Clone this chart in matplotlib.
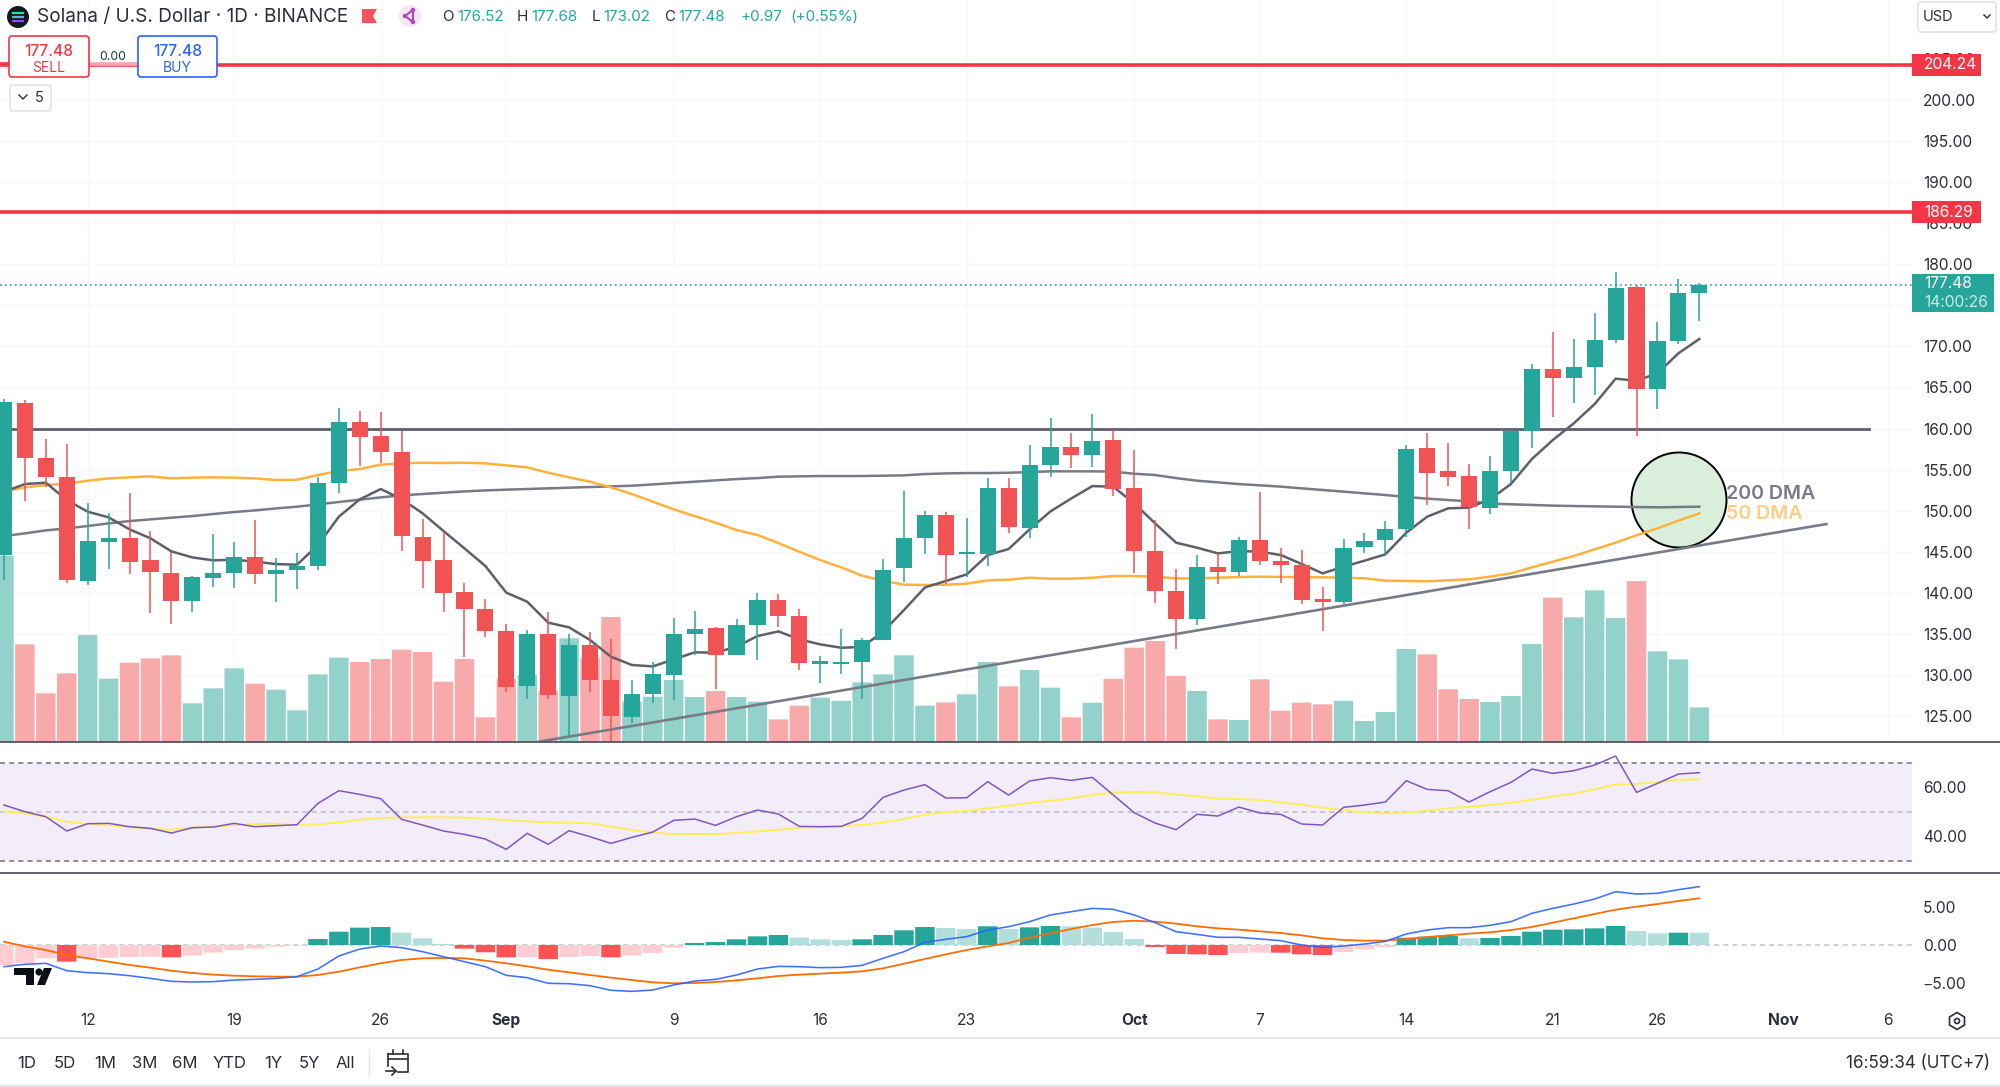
import matplotlib
matplotlib.use("Agg")
import matplotlib.pyplot as plt
from matplotlib.patches import Rectangle, FancyBboxPatch, Circle, Polygon
from matplotlib.transforms import blended_transform_factory

plt.rcParams['font.family'] = ['Inter', 'DejaVu Sans']

# ---------------- data ----------------
highs = [163.54,163.46,158.76,158.11,150.89,149.76,152.11,147.53,144.93,142.05,147.16,146.15,148.87,144.28,144.89,154.06,162.45,162.13,162.04,159.73,
         148.99,147.45,141.16,139.21,136.21,135.48,137.71,134.96,135.28,134.39,129.40,131.63,136.90,137.80,135.89,136.78,140.03,139.86,138.00,132.36,
         135.65,134.47,144.08,152.39,150.00,149.88,149.07,154.02,154.02,157.99,161.31,159.41,161.76,159.81,157.38,148.87,142.90,144.61,144.89,146.76,
         152.32,145.51,145.22,140.68,146.60,147.25,148.79,158.00,159.41,158.28,155.64,156.66,159.80,167.85,171.74,170.89,174.09,179.08,177.46,173.00,178.15,177.68]
lows = [141.57,151.22,152.84,141.24,140.96,142.90,142.30,137.59,136.21,137.71,140.76,140.63,141.08,138.93,140.47,142.78,152.11,155.43,155.76,145.13,
        140.63,137.71,132.24,134.59,127.98,127.05,127.13,122.51,127.94,121.90,124.21,126.64,126.97,132.44,128.31,132.44,131.83,135.81,130.62,129.00,
        130.13,127.05,134.27,141.28,144.69,141.08,141.97,143.27,147.24,146.72,154.14,155.19,155.27,151.79,142.38,138.73,133.13,136.09,141.08,142.05,
        143.40,141.25,138.61,135.41,138.61,144.82,144.61,146.84,150.70,153.01,147.74,149.60,153.33,157.59,161.36,163.14,164.08,170.44,159.13,162.33,170.24,173.02]
opens = [144.61,163.14,156.37,154.06,141.45,146.23,146.64,143.96,142.46,139.05,141.85,142.38,144.32,142.34,142.78,143.27,153.37,160.75,159.12,157.18,
         146.76,143.96,140.07,138.04,135.40,128.63,134.96,127.50,133.66,129.40,124.94,127.74,130.05,135.00,135.69,132.44,136.05,139.17,137.19,131.39,
         131.35,131.55,134.27,142.99,146.64,149.51,144.73,144.73,152.80,147.93,155.60,157.75,156.77,158.60,152.72,145.13,140.19,136.82,143.19,142.58,
         146.44,143.92,143.44,139.26,138.90,145.55,146.44,147.82,157.59,154.83,154.22,150.37,154.83,159.74,167.28,166.10,167.52,170.73,177.17,164.85,170.69,176.52]
closes = [163.26,156.41,154.06,141.57,146.35,146.64,143.72,142.50,139.05,141.93,142.46,144.40,142.30,142.74,143.27,153.37,160.79,159.00,157.14,146.88,
          143.92,140.03,138.04,135.40,128.59,134.96,127.58,133.62,129.40,125.02,127.74,130.09,135.00,135.61,132.40,136.05,139.13,137.19,131.43,131.55,
          131.55,134.27,142.82,146.64,149.43,144.65,144.89,152.72,148.01,155.56,157.75,156.77,158.52,152.60,145.13,140.19,136.82,143.11,142.58,146.39,
          143.88,143.44,139.14,138.94,145.46,146.36,147.74,157.55,154.55,154.14,150.41,154.83,159.70,167.28,166.19,167.44,170.77,177.13,164.77,170.69,176.53,177.48]
volumes = [558,292,145,205,320,189,237,250,259,115,160,220,174,156,94,202,252,239,248,276,
           269,180,248,73,188,200,152,310,250,374,120,135,185,134,152,134,120,67,108,132,
           123,178,202,259,108,118,142,239,166,215,162,73,117,189,282,302,197,152,67,65,
           187,93,117,112,123,62,89,278,262,157,128,119,137,293,432,373,454,371,482,271,247,103]
ma_short = [152.31,153.24,153.41,151.30,149.88,149.19,147.73,146.64,145.05,144.32,143.96,144.04,143.80,143.51,143.43,145.82,149.27,151.38,152.64,151.42,
            149.68,147.53,145.42,143.27,140.03,138.93,136.38,135.81,134.27,132.24,131.23,131.06,131.92,132.77,132.73,133.46,134.75,135.32,134.35,133.74,
            133.33,133.42,135.28,137.92,140.67,141.45,142.26,144.61,145.34,147.73,149.92,151.50,153.00,152.92,150.89,148.46,146.11,145.50,144.81,145.09,
            145.02,144.61,143.52,142.38,143.19,143.92,144.69,147.33,149.28,150.29,150.37,151.39,153.25,156.29,158.60,160.63,162.98,166.06,165.82,166.71,169.15,170.89]
ma_200 = [146.92,147.24,147.61,147.85,148.14,148.46,148.74,148.95,149.15,149.35,149.60,149.84,150.04,150.28,150.49,150.77,151.06,151.34,151.62,151.87,
          152.03,152.19,152.35,152.47,152.56,152.64,152.72,152.80,152.88,152.96,153.04,153.20,153.37,153.53,153.69,153.85,153.97,154.14,154.18,154.22,
          154.22,154.22,154.26,154.30,154.46,154.54,154.58,154.58,154.62,154.70,154.79,154.79,154.79,154.75,154.50,154.34,153.97,153.65,153.45,153.24,
          153.09,152.93,152.72,152.52,152.32,152.11,151.91,151.67,151.47,151.30,151.14,150.86,150.78,150.70,150.62,150.57,150.53,150.49,150.45,150.41,150.45,150.49]
ma_50 = [152.31,152.84,153.12,153.29,153.65,153.93,154.06,154.18,153.93,154.02,154.06,154.02,153.93,153.73,153.77,154.34,154.83,155.07,155.60,155.76,
         155.84,155.80,155.84,155.76,155.52,155.27,154.62,154.06,153.53,152.84,152.03,151.10,150.16,149.35,148.54,147.65,147.04,146.07,145.01,144.00,
         143.11,142.09,141.49,141.00,140.96,141.00,141.12,141.53,141.61,141.85,141.73,141.73,141.85,142.05,142.05,141.97,141.77,141.77,141.85,141.93,
         141.98,141.94,141.94,141.90,141.86,141.78,141.49,141.45,141.41,141.53,141.65,141.98,142.38,143.11,143.80,144.49,145.30,146.11,147.01,147.86,148.79,149.68]
rsi = [52.72,50.00,47.96,42.11,45.10,45.24,43.88,43.20,41.29,43.47,43.74,45.24,43.88,44.29,44.69,53.40,58.57,57.07,55.31,46.87,
       44.56,42.11,40.75,38.84,34.63,41.16,36.67,42.24,39.80,37.07,39.52,41.70,46.46,47.01,44.42,47.96,50.68,49.05,44.01,43.88,
       44.01,47.28,55.85,58.84,61.02,55.58,55.71,62.24,56.80,62.52,63.88,62.79,64.01,56.80,49.59,45.37,42.65,48.91,48.23,51.90,
       49.46,48.91,44.97,44.56,51.77,52.72,53.95,62.65,59.12,58.57,53.95,58.16,61.97,67.41,65.65,66.73,69.05,72.72,57.89,61.56,65.37,65.92]
rsi_ma = [50.27,49.32,47.96,45.92,44.97,44.42,43.74,42.93,42.65,43.47,43.88,44.56,44.97,45.10,44.56,44.83,45.65,46.73,47.41,47.69,
          47.69,47.69,47.55,47.14,46.60,46.05,45.65,45.51,45.24,43.88,42.52,41.43,40.88,40.88,40.88,41.29,41.97,42.65,43.47,43.74,
          44.15,44.56,45.65,47.01,48.78,49.86,50.27,51.36,52.45,53.54,54.49,55.44,56.80,57.76,58.03,57.89,56.94,56.26,55.31,55.17,
          54.76,53.81,52.86,51.63,50.68,49.73,49.32,49.59,50.41,51.36,52.04,52.72,53.67,54.90,56.12,57.35,59.12,61.02,61.43,61.97,63.06,63.20]
macd_hist = [-2.63,-2.41,-1.75,-2.19,-1.75,-1.67,-1.58,-1.54,-1.62,-1.40,-1.01,-0.66,-0.48,-0.22,-0.09,0.79,1.75,2.28,2.37,1.62,
             0.88,0.13,-0.48,-0.96,-1.62,-1.58,-1.84,-1.58,-1.45,-1.62,-1.40,-1.05,-0.35,0.26,0.39,0.75,1.14,1.32,0.96,0.75,
             0.66,0.75,1.32,1.93,2.37,2.24,2.11,2.46,2.11,2.32,2.50,2.46,2.28,1.71,0.79,-0.26,-1.18,-1.23,-1.32,-1.05,
             -1.01,-1.01,-1.23,-1.32,-0.92,-0.57,-0.26,0.96,1.10,1.18,0.88,0.92,1.18,1.75,2.02,2.06,2.19,2.50,1.84,1.54,1.62,1.62]
macd_line = [-2.85,-2.54,-2.41,-3.38,-3.64,-3.77,-4.04,-4.39,-4.78,-4.87,-4.82,-4.61,-4.52,-4.39,-4.17,-3.16,-1.45,-0.53,-0.13,-0.35,
             -0.88,-1.54,-2.19,-2.85,-3.99,-4.30,-5.04,-5.09,-5.35,-5.96,-6.10,-5.92,-5.26,-4.74,-4.52,-3.95,-3.16,-2.81,-2.85,-2.98,
             -2.94,-2.68,-1.75,-0.88,0.35,0.75,1.10,1.97,2.41,3.07,3.95,4.39,4.82,4.69,3.95,2.94,1.75,1.40,1.01,1.01,
             0.79,0.57,0.00,-0.31,-0.13,0.13,0.48,1.45,1.97,2.28,2.28,2.59,3.07,4.17,4.82,5.39,6.05,7.02,6.71,6.80,7.28,7.68]
macd_signal = [0.44,-0.18,-0.66,-1.32,-1.75,-2.19,-2.63,-2.98,-3.38,-3.68,-3.90,-4.04,-4.12,-4.17,-4.17,-3.95,-3.51,-2.94,-2.41,-1.97,
               -1.75,-1.71,-1.75,-2.06,-2.41,-2.81,-3.25,-3.60,-3.95,-4.30,-4.61,-4.91,-5.04,-5.00,-4.87,-4.65,-4.39,-4.08,-3.90,-3.77,
               -3.64,-3.46,-3.07,-2.46,-1.84,-1.23,-0.66,-0.18,0.26,0.96,1.54,2.11,2.63,3.03,3.20,3.07,2.81,2.46,2.19,2.02,
               1.80,1.58,1.27,0.88,0.66,0.57,0.57,0.79,1.05,1.27,1.49,1.67,1.97,2.37,2.94,3.51,4.08,4.65,5.04,5.39,5.79,6.14]
resistance_levels = [204.24, 186.29]
horizontal_level = 160.0
horizontal_span = [-0.19, 89.1]
trend_x = [25.56, 87.07]
trend_y = [121.90, 148.38]
last_price = 177.48
price_ticks = list(range(125, 210, 5))
time_tick_pos = [4, 11, 18, 24, 32, 39, 46, 54, 60, 67, 74, 79, 85, 90]
time_tick_lab = ['12', '19', '26', 'Sep', '9', '16', '23', 'Oct', '7', '14', '21', '26', 'Nov', '6']
month_labels = ['Sep', 'Oct', 'Nov']
range_buttons = ['1D', '5D', '1M', '3M', '6M', 'YTD', '1Y', '5Y', 'All']
range_x = [27, 65, 105, 145, 185, 230, 273, 309, 345]

# ---------------- colours ----------------
UP, DOWN = '#26a69a', '#f15355'
UP_V, DOWN_V = '#92d2ca', '#f8a9a9'
TXT = '#2a2e39'
RED = '#f23645'
FS = 11.2

W, H = 2000, 1087
fig = plt.figure(figsize=(W / 100, H / 100), dpi=100, facecolor='white')

def pane(top, bottom, left=0, right=1912):
    return fig.add_axes([left / W, 1 - bottom / H, (right - left) / W, (bottom - top) / H])

ax_g = pane(0, 741.7)
ax = pane(0, 741.7)
ax_v = ax.twinx()
ax_r = pane(744, 871.5)
ax_m = pane(874, 1003)
XL = (-0.19, 91.16)
PL = (121.90, 212.13)
xs = list(range(len(closes)))

# ---- faint grid under everything ----
ax_g.set_zorder(0)
ax_g.set_xlim(XL)
ax_g.set_ylim(PL)
ax_g.set_xticks(time_tick_pos)
ax_g.set_yticks(price_ticks)
ax_g.grid(True, color='#f7f8fa', lw=1)
ax_g.tick_params(labelbottom=False, labelleft=False, length=0)
for s in ax_g.spines.values():
    s.set_visible(False)

# ---- volume ----
ax_v.set_ylim(0, 2225)
ax_v.set_zorder(1)
ax.set_zorder(2)
ax.patch.set_alpha(0)
v_cols = [UP_V if c >= o else DOWN_V for o, c in zip(opens, closes)]
v_bars = ax_v.bar(xs, volumes, width=0.93, color=v_cols, edgecolor='none', zorder=2)
for b in v_bars:
    b.set_snap(False)
ax_v.set_xlim(XL)
ax_v.axis('off')

# ---- price ----
ax.set_xlim(XL)
ax.set_ylim(PL)
ax.set_xticks([])
ax.set_yticks(price_ticks)
ax.grid(False)
ax.yaxis.tick_right()
ax.tick_params(axis='y', length=0, pad=7.8, labelsize=FS, labelcolor=TXT)
ax.set_yticklabels([f'{p:.2f}' for p in price_ticks])
for s in ax.spines.values():
    s.set_visible(False)

ax.add_patch(Circle((1679, H - 500), 47.5, transform=None, facecolor='#d9efdb', edgecolor='black', lw=1.4, zorder=2))

ax.axhline(last_price, color=UP, lw=1.2, ls=(0, (1, 2)), zorder=2.2)
for lev in resistance_levels:
    ax.axhline(lev, color=RED, lw=2.6, zorder=2.2)
ax.plot(horizontal_span, [horizontal_level] * 2, color='#5d606b', lw=2.0, zorder=3)
ax.plot(trend_x, trend_y, color='#787b86', lw=1.9, zorder=3.1)

ax.plot(xs, ma_200, color='#787b86', lw=1.8, zorder=3.5)
ax.plot(xs, ma_50, color='#ffb13d', lw=1.8, zorder=3.6)
ax.plot(xs, ma_short, color='#5d606b', lw=1.8, zorder=3.7)

for i, (o, h, l, c) in enumerate(zip(opens, highs, lows, closes)):
    col = UP if c >= o else DOWN
    ax.plot([i, i], [l, h], color=col, lw=1.1, zorder=4, solid_capstyle='butt')
    ax.bar(i, max(abs(c - o), 0.3), bottom=min(o, c), width=0.77, color=col, edgecolor='none', zorder=4.1)

ax.text(1726, H - 494, '200 DMA', transform=None, color='#787b86', fontsize=14.1, fontweight='semibold', va='center', ha='left', zorder=6)
ax.text(1726, H - 514, '50 DMA', transform=None, color='#ffcc80', fontsize=14.1, fontweight='semibold', va='center', ha='left', zorder=6)

# price tags
tag = blended_transform_factory(ax.transAxes, ax.transData)
for lev in resistance_levels:
    ax.add_patch(Rectangle((1.0, lev - 1.34), 69 / 1912, 2.68, transform=tag, facecolor=RED, edgecolor='none', clip_on=False, zorder=7))
    ax.text(1 + 12 / 1912, lev, f'{lev:.2f}', transform=tag, color='white', fontsize=FS, va='center', ha='left', clip_on=False, zorder=8)
ax.add_patch(Rectangle((1.0, 174.17), 82 / 1912, 4.63, transform=tag, facecolor=UP, edgecolor='none', clip_on=False, zorder=7))
ax.text(1 + 12 / 1912, 177.60, f'{last_price:.2f}', transform=tag, color='white', fontsize=FS, va='center', ha='left', clip_on=False, zorder=8)
ax.text(1 + 12 / 1912, 175.27, '14:00:26', transform=tag, color='#c9ebe7', fontsize=FS, va='center', ha='left', clip_on=False, zorder=8)

# ---- RSI ----
ax_r.set_xlim(XL)
ax_r.set_ylim(70 - (871.5 - 762.7) / 2.45, 70 + (762.7 - 744) / 2.45)
ax_r.axhspan(30, 70, color='#f3edfa', lw=0, zorder=1)
for lev, col in zip([70, 50, 30], ['#787b86', '#c0c2c8', '#787b86']):
    ax_r.axhline(lev, color=col, lw=1.2, ls=(0, (3, 2.5)), zorder=1.5)
ax_r.plot(xs, rsi_ma, color='#ffee58', lw=1.4, zorder=3)
ax_r.plot(xs, rsi, color='#7e57c2', lw=1.1, zorder=3.1)
ax_r.set_xticks(time_tick_pos)
ax_r.set_yticks([40, 60])
ax_r.set_yticklabels(['40.00', '60.00'])
ax_r.grid(False)
ax_r.tick_params(axis='x', labelbottom=False, length=0)
ax_r.yaxis.tick_right()
ax_r.tick_params(axis='y', length=0, pad=7.8, labelsize=FS, labelcolor=TXT)
for s in ax_r.spines.values():
    s.set_visible(False)

# ---- MACD ----
ax_m.set_xlim(XL)
ax_m.set_ylim(-(1003 - 945) / 7.6, (945 - 874) / 7.6)
ax_m.axhline(0, color='#c8cacf', lw=1.2, ls=(0, (3, 2.5)), zorder=1)
hist_cols = []
for i, v in enumerate(macd_hist):
    rising = i > 0 and v > macd_hist[i - 1]
    if v >= 0:
        hist_cols.append('#26a69a' if rising else '#b2dfdb')
    else:
        hist_cols.append('#ffcdd2' if (rising or i == 0) else '#ff5252')
m_bars = ax_m.bar(xs, macd_hist, width=0.93, color=hist_cols, edgecolor='none', zorder=2)
for b in m_bars:
    b.set_snap(False)
ax_m.plot(xs, macd_signal, color='#ff6d00', lw=1.3, zorder=3)
ax_m.plot(xs, macd_line, color='#2962ff', lw=1.15, alpha=0.9, zorder=3.1)
ax_m.set_xticks(time_tick_pos)
ax_m.set_xticklabels(time_tick_lab)
for lab in ax_m.get_xticklabels():
    if lab.get_text() in month_labels:
        lab.set_fontweight('bold')
ax_m.set_yticks([-5, 0, 5])
ax_m.set_yticklabels(['\u22125.00', '0.00', '5.00'])
ax_m.grid(False)
ax_m.yaxis.tick_right()
ax_m.tick_params(axis='y', length=0, pad=7.8, labelsize=FS, labelcolor=TXT)
ax_m.tick_params(axis='x', length=0, pad=7.5, labelsize=FS, labelcolor=TXT)
for s in ax_m.spines.values():
    s.set_visible(False)

# ---- chrome overlay in pixel coordinates ----
ui = fig.add_axes([0, 0, 1, 1], zorder=20)
ui.set_xlim(0, W)
ui.set_ylim(H, 0)
ui.axis('off')
ui.patch.set_alpha(0)

ui.plot([0, W], [742, 742], color='#50535e', lw=1.3)
ui.plot([0, W], [872.5, 872.5], color='#50535e', lw=1.3)
ui.plot([0, W], [1038, 1038], color='#e0e3eb', lw=1.5)
ui.plot([0, W], [1086, 1086], color='#e0e3eb', lw=1.5)

# header
ui.add_patch(Circle((18, 17), 11, color='#131722', lw=0))
for dy, c in zip([-4, 0, 4], ['#14f195', '#5fb3d9', '#9945ff']):
    ui.plot([12, 24], [17 + dy, 17 + dy], color=c, lw=1.6, solid_capstyle='butt')
ui.text(37, 17, 'Solana / U.S. Dollar \u00b7 1D \u00b7 BINANCE', fontsize=13.65, color=TXT, va='center', ha='left')
ui.add_patch(Polygon([(362, 9), (377, 9), (373, 16), (377, 23), (362, 23)], color='#f7525f', lw=0))
ui.add_patch(Circle((410, 16), 11, color='#f3e5f5', lw=0))
ui.add_patch(Polygon([(405, 16), (413, 10), (413, 22)], closed=True, fill=False, edgecolor='#ab47bc', lw=1.5))
for nx, ny in [(405, 16), (413, 10), (413, 22)]:
    ui.add_patch(Circle((nx, ny), 2.2, color='#ab47bc', lw=0))
x_txt = [(442, 'O', TXT), (457, '176.52', UP), (517, 'H', TXT), (531, '177.68', UP), (592, 'L', TXT), (603, '173.02', UP), (664, 'C', TXT), (678, '177.48', UP), (740, '+0.97', UP), (790, '(+0.55%)', UP)]
for x, s, c in x_txt:
    ui.text(x, 17, s, fontsize=10.9, color=c, va='center', ha='left')

# buy/sell widget
ui.plot([0, 9], [64, 64], color=RED, lw=2.6)
ui.plot([88, 138], [64, 64], color='#f9a5ad', lw=2.6)
for x0, x1, col, s in [(9, 89, RED, 'SELL'), (138, 217, '#2962ff', 'BUY')]:
    ui.add_patch(FancyBboxPatch((x0 + 3, 39), x1 - x0 - 6, 35, boxstyle='round,pad=3', facecolor='white', edgecolor=col, lw=1.2, zorder=3))
    ui.text((x0 + x1) / 2, 51, '177.48', color=col, fontsize=11.2, fontweight='medium', ha='center', va='center', zorder=4)
    ui.text((x0 + x1) / 2, 67.5, s, color=col, fontsize=10, ha='center', va='center', zorder=4)
ui.text(113, 57, '0.00', color=TXT, fontsize=8.8, ha='center', va='center', zorder=4)
ui.add_patch(FancyBboxPatch((13, 88), 35, 20, boxstyle='round,pad=3', facecolor='white', edgecolor='#e0e3eb', lw=1.2))
ui.plot([19, 23, 27], [95, 99, 95], color=TXT, lw=1)
ui.text(39, 98, '5', color=TXT, fontsize=10.5, ha='center', va='center')

# USD selector
ui.add_patch(FancyBboxPatch((1921, 5), 72, 24, boxstyle='round,pad=3', facecolor='white', edgecolor='#e0e3eb', lw=1.2))
ui.text(1923, 17, 'USD', color=TXT, fontsize=10.5, ha='left', va='center')
ui.plot([1984, 1987, 1990], [15, 18, 15], color=TXT, lw=1)

# TradingView logo
ui.add_patch(Polygon([(14, 968), (34, 968), (34, 985), (26, 985), (26, 975), (14, 975)], color='#0b0e14', lw=0))
ui.add_patch(Circle((39, 972), 3.6, color='#0b0e14', lw=0))
ui.add_patch(Polygon([(44, 968), (52, 968), (45, 985), (37, 985)], color='#0b0e14', lw=0))

# bottom bar
for x, s in zip(range_x, range_buttons):
    ui.text(x, 1063, s, color=TXT, fontsize=12, ha='center', va='center')
ui.plot([369, 369], [1050, 1075], color='#e0e3eb', lw=1)
# go-to-date icon
ui.plot([396, 386, 386, 408, 408, 398], [1072, 1072, 1054, 1054, 1072, 1072], color='#ffffff', lw=0)
ui.plot([388, 388], [1066, 1054], color=TXT, lw=1.2)
ui.plot([388, 408, 408, 398], [1054, 1054, 1072, 1072], color=TXT, lw=1.2)
ui.plot([388, 408], [1059, 1059], color=TXT, lw=1.2)
ui.plot([393, 393], [1050, 1054], color=TXT, lw=1.2)
ui.plot([403, 403], [1050, 1054], color=TXT, lw=1.2)
ui.plot([386, 396], [1071, 1071], color=TXT, lw=1.2)
ui.plot([392, 396, 392], [1067, 1071, 1075], color=TXT, lw=1.2)
ui.text(1990, 1063, '16:59:34 (UTC+7)', color=TXT, fontsize=12.3, ha='right', va='center')
# settings icon
ui.add_patch(Polygon([(1957, 1012.5), (1964.5, 1017), (1964.5, 1025), (1957, 1029.5), (1949.5, 1025), (1949.5, 1017)], closed=True, fill=False, edgecolor=TXT, lw=1.2))
ui.add_patch(Circle((1957, 1021), 2.5, fill=False, edgecolor=TXT, lw=1.2))

fig.savefig('out.png', dpi=100, facecolor='white')
